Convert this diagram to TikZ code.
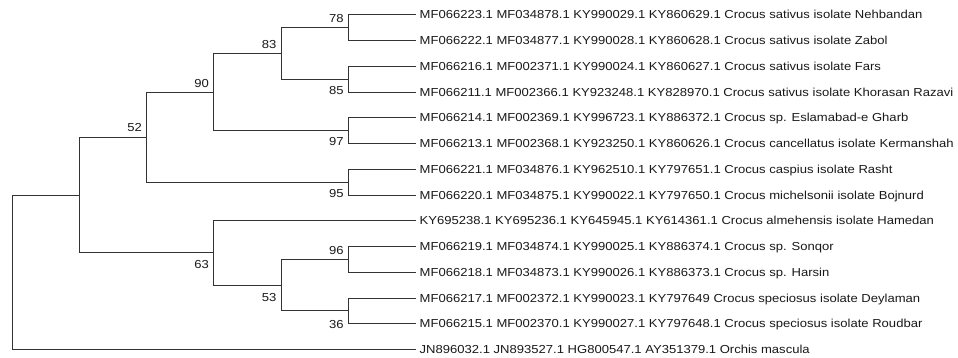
\documentclass[tikz,border=0pt]{standalone}
\usepackage{fontspec}
\setmainfont{Liberation Sans}[FakeStretch=1.125]
\begin{document}
\begin{tikzpicture}[x=1pt,y=-1pt,
  branch/.style={draw=black!80,line width=1.2pt},
  leaf/.style={anchor=west,inner xsep=4pt,inner ysep=0pt,text height=8.4pt,text depth=0pt,font=\fontsize{11.6}{13}\selectfont,text=black!90},
  boot/.style={anchor=east,inner sep=0pt,text height=8.4pt,text depth=0pt,font=\fontsize{11.6}{13}\selectfont,text=black!90}]
\useasboundingbox (0,0) rectangle (958,358);
% leaves
\node[leaf] (l0) at (415.5,14.5) {MF066223.1 MF034878.1 KY990029.1 KY860629.1 Crocus sativus isolate Nehbandan};
\node[leaf] (l1) at (415.5,40.5) {MF066222.1 MF034877.1 KY990028.1 KY860628.1 Crocus sativus isolate Zabol};
\node[leaf] (l2) at (415.5,66.5) {MF066216.1 MF002371.1 KY990024.1 KY860627.1 Crocus sativus isolate Fars};
\node[leaf] (l3) at (415.5,92.5) {MF066211.1 MF002366.1 KY923248.1 KY828970.1 Crocus sativus isolate Khorasan Razavi};
\node[leaf] (l4) at (415.5,117.5) {MF066214.1 MF002369.1 KY996723.1 KY886372.1 Crocus sp. Eslamabad-e Gharb};
\node[leaf] (l5) at (415.5,143.5) {MF066213.1 MF002368.1 KY923250.1 KY860626.1 Crocus cancellatus isolate Kermanshah};
\node[leaf] (l6) at (415.5,169.5) {MF066221.1 MF034876.1 KY962510.1 KY797651.1 Crocus caspius isolate Rasht};
\node[leaf] (l7) at (415.5,195.5) {MF066220.1 MF034875.1 KY990022.1 KY797650.1 Crocus michelsonii isolate Bojnurd};
\node[leaf] (l8) at (415.5,220.5) {KY695238.1 KY695236.1 KY645945.1 KY614361.1 Crocus almehensis isolate Hamedan};
\node[leaf] (l9) at (415.5,246.5) {MF066219.1 MF034874.1 KY990025.1 KY886374.1 Crocus sp. Sonqor};
\node[leaf] (l10) at (415.5,272.5) {MF066218.1 MF034873.1 KY990026.1 KY886373.1 Crocus sp. Harsin};
\node[leaf] (l11) at (415.5,298.5) {MF066217.1 MF002372.1 KY990023.1 KY797649 Crocus speciosus isolate Deylaman};
\node[leaf] (l12) at (415.5,323.5) {MF066215.1 MF002370.1 KY990027.1 KY797648.1 Crocus speciosus isolate Roudbar};
\node[leaf] (l13) at (415.5,349.5) {JN896032.1 JN893527.1 HG800547.1 AY351379.1 Orchis mascula};
% internal nodes
\coordinate (n78) at (348.5,27.5);
\coordinate (n85) at (348.5,79.5);
\coordinate (n97) at (348.5,130.5);
\coordinate (n95) at (348.5,182.5);
\coordinate (n96) at (348.5,259.5);
\coordinate (n36) at (348.5,310.5);
\coordinate (n83) at (281.5,53.5);
\coordinate (n53) at (281.5,285.5);
\coordinate (n90) at (213.5,92.5);
\coordinate (n63) at (213.5,252.5);
\coordinate (n52) at (146.5,137.5);
\coordinate (nA) at (79.5,195.5);
\coordinate (root) at (12.5,272.5);
% branches
\draw[branch] (n78) |- (l0.west); \draw[branch] (n78) |- (l1.west);
\draw[branch] (n85) |- (l2.west); \draw[branch] (n85) |- (l3.west);
\draw[branch] (n97) |- (l4.west); \draw[branch] (n97) |- (l5.west);
\draw[branch] (n95) |- (l6.west); \draw[branch] (n95) |- (l7.west);
\draw[branch] (n96) |- (l9.west); \draw[branch] (n96) |- (l10.west);
\draw[branch] (n36) |- (l11.west); \draw[branch] (n36) |- (l12.west);
\draw[branch] (n83) |- (n78); \draw[branch] (n83) |- (n85);
\draw[branch] (n53) |- (n96); \draw[branch] (n53) |- (n36);
\draw[branch] (n90) |- (n83); \draw[branch] (n90) |- (n97);
\draw[branch] (n63) |- (l8.west); \draw[branch] (n63) |- (n53);
\draw[branch] (n52) |- (n90); \draw[branch] (n52) |- (n95);
\draw[branch] (nA) |- (n52); \draw[branch] (nA) |- (n63);
\draw[branch] (root) |- (nA); \draw[branch] (root) |- (l13.west);
% bootstrap values
\node[boot] (b78) at (343.8,18) {78};
\node[boot] (b83) at (276.6,44) {83};
\node[boot] (b90) at (209.0,83.3) {90};
\node[boot] (b52) at (142.0,127) {52};
\node[boot] (b85) at (343.8,90.7) {85};
\node[boot] (b97) at (343.8,141.7) {97};
\node[boot] (b95) at (343.8,193.3) {95};
\node[boot] (b96) at (343.8,250.7) {96};
\node[boot] (b63) at (209.0,264) {63};
\node[boot] (b53) at (276.6,297.3) {53};
\node[boot] (b36) at (343.8,324) {36};
\end{tikzpicture}
\end{document}
